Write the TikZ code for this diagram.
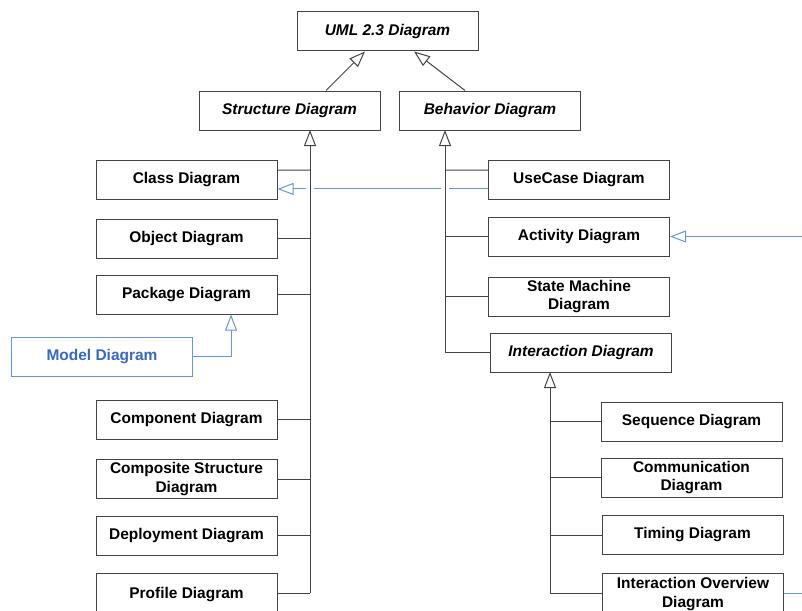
\documentclass[tikz,border=0pt]{standalone}
\usepackage{fontspec}
\setmainfont{Liberation Sans}
\usetikzlibrary{arrows.meta}

\definecolor{linegray}{RGB}{68,68,68}
\definecolor{linkblue}{RGB}{110,148,210}
\definecolor{textblue}{RGB}{58,104,190}

\tikzset{every picture/.style={line width=0.75pt}}
\tikzset{
  diagbox/.style={draw=linegray, rectangle, minimum width=135.75pt, minimum height=29.25pt,
    inner sep=0pt, align=center, font=\bfseries\fontsize{11.6}{14}\selectfont},
  abstractbox/.style={diagbox, font=\bfseries\itshape\fontsize{11.6}{14}\selectfont},
  gen/.style={draw=linegray, -{Triangle[open, length=12pt, width=9pt]}},
  bluegen/.style={draw=linkblue, -{Triangle[open, length=12pt, width=9pt]}},
  halo/.style={preaction={draw=white, line width=6pt, -, shorten >=20pt}}
}

\begin{document}
\begin{tikzpicture}[x=0.75pt,y=0.75pt,yscale=-1,xscale=1]
\useasboundingbox (0,0) rectangle (802,610);
\clip (0,0) rectangle (802,610);

% Text Node
\node [abstractbox] (uml) at (387.5,31.5) {UML 2.3 Diagram};
\node [abstractbox] (structure) at (289.5,110.5) {Structure Diagram};
\node [abstractbox] (behavior) at (490,110.5) {Behavior Diagram};

% Text Node: structure side
\node [diagbox] (class) at (186.5,179.5) {Class Diagram};
\node [diagbox] (object) at (186.5,238.5) {Object Diagram};
\node [diagbox] (package) at (186.5,294.5) {Package Diagram};
\node [diagbox, draw=linkblue, text=textblue] (model) at (102,356.5) {Model Diagram};
\node [diagbox] (component) at (186.5,419.5) {Component Diagram};
\node [diagbox] (composite) at (186.5,479) {Composite Structure\\Diagram};
\node [diagbox] (deployment) at (186.5,535.5) {Deployment Diagram};
\node [diagbox, minimum height=31pt] (profile) at (186.5,594.5) {Profile Diagram};

% Text Node: behavior side
\node [diagbox] (usecase) at (579,179.5) {UseCase Diagram};
\node [diagbox] (activity) at (579,236.5) {Activity Diagram};
\node [diagbox] (statemachine) at (579,296.5) {State Machine\\Diagram};
\node [abstractbox] (interaction) at (581,352.5) {Interaction Diagram};
\node [diagbox] (sequence) at (691.5,421.5) {Sequence Diagram};
\node [diagbox] (communication) at (691.5,477.5) {Communication\\Diagram};
\node [diagbox] (timing) at (692.5,535) {Timing Diagram};
\node [diagbox, minimum height=31.5pt] (overview) at (693,594) {Interaction Overview\\Diagram};

% trunk tops and off-page ends
\coordinate (strunk) at (310,130);
\coordinate (btrunk) at (445,130);
\coordinate (itrunk) at (550,372);
\coordinate (activityin) at (805,236.5);
\coordinate (overviewout) at (810,593);

%Straight Lines: dependencies (drawn first, trunks cut them)
\draw [bluegen] ([yshift=7.1pt]usecase.west) -- ([yshift=7.1pt]class.east);
\draw [bluegen] (activityin) -- (activity.east);
\draw [draw=linkblue] (overview.east |- overviewout) -- (overviewout);
\draw [bluegen] (model.east) -| ([xshift=33.4pt]package.south);

%Straight Lines: generalisations to the root
\draw [gen] ([xshift=27.4pt]structure.north) -- ([xshift=-16.9pt]uml.south);
\draw [gen] ([xshift=-18.75pt]behavior.north) -- ([xshift=19.9pt]uml.south);

%Straight Lines: trunks
\draw [gen, halo] (strunk |- 0,593) -- (strunk);
\draw [gen, halo] (btrunk |- interaction) -- (btrunk);
\draw [gen] (itrunk |- 0,593) -- (itrunk);

%Straight Lines: stubs
\draw [linegray] ([yshift=-7.1pt]class.east) -- (strunk |- 0,170);
\draw [linegray] (object.east) -- (strunk |- object);
\draw [linegray] (package.east) -- (strunk |- package);
\draw [linegray] (component.east) -- (strunk |- component);
\draw [linegray] (composite.east) -- (strunk |- composite);
\draw [linegray] (deployment.east) -- (strunk |- deployment);
\draw [linegray] (profile.east |- 0,593) -- (strunk |- 0,593);
\draw [linegray] ([yshift=-7.1pt]usecase.west) -- (btrunk |- 0,170);
\draw [linegray] (activity.west) -- (btrunk |- activity);
\draw [linegray] (statemachine.west) -- (btrunk |- statemachine);
\draw [linegray] (interaction.west) -- (btrunk |- interaction);
\draw [linegray] (sequence.west) -- (itrunk |- sequence);
\draw [linegray] (communication.west) -- (itrunk |- communication);
\draw [linegray] (timing.west) -- (itrunk |- timing);
\draw [linegray] (overview.west |- 0,593) -- (itrunk |- 0,593);

\end{tikzpicture}
\end{document}
